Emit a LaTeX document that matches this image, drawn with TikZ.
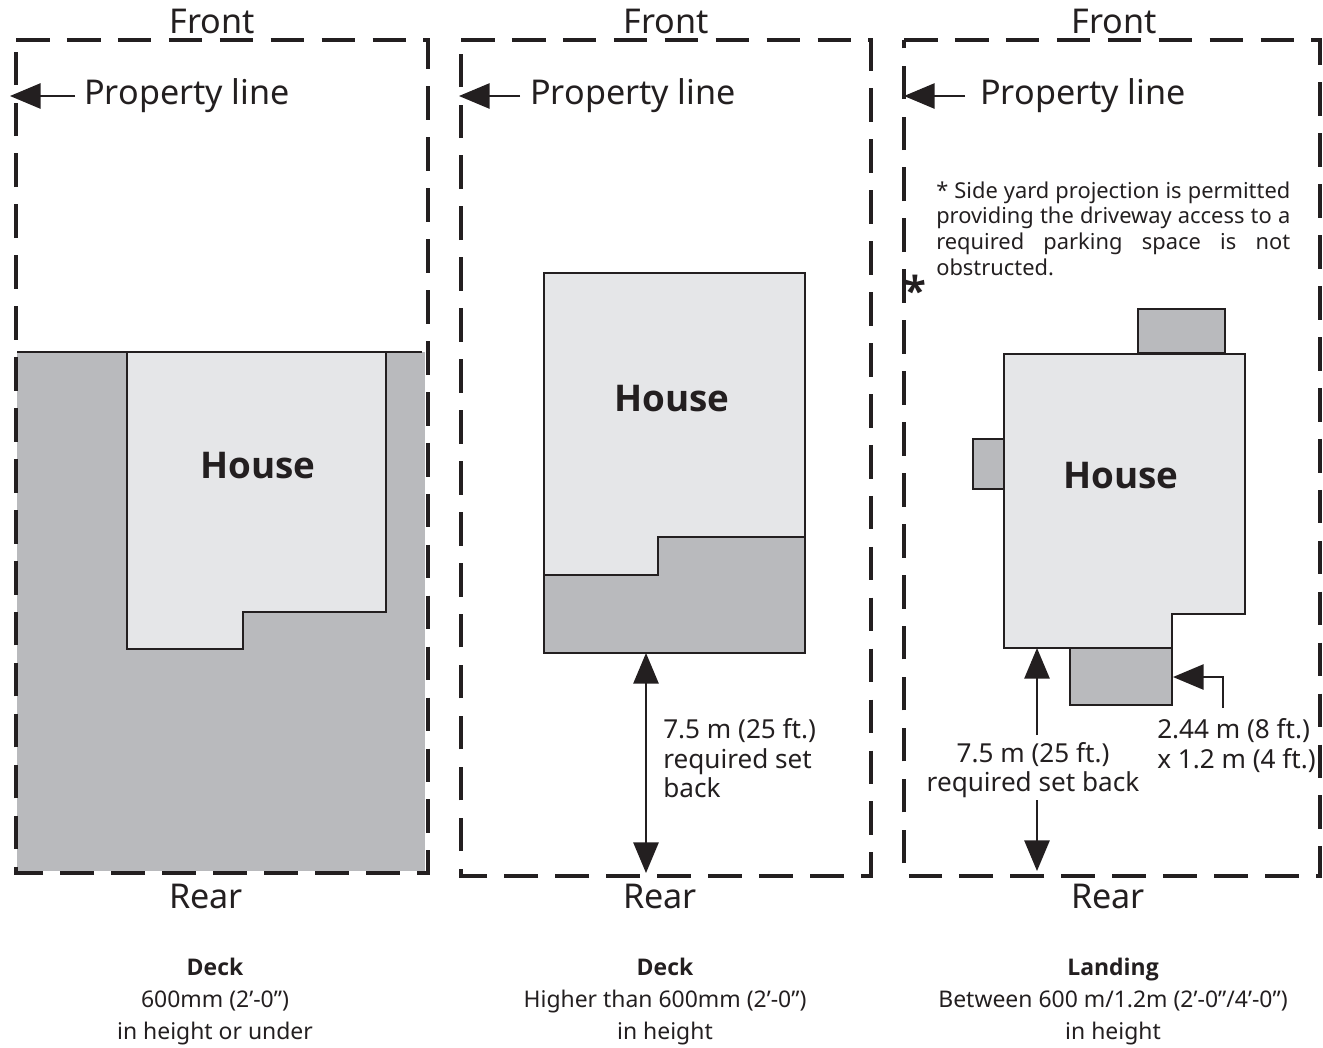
\documentclass[tikz,border=0pt]{standalone}
\usepackage{fontspec}
\setmainfont{Noto Sans}
\newfontfamily\headfont{Open Sans}
\usepackage{xcolor}
\usetikzlibrary{arrows.meta, positioning}
\definecolor{ink}{HTML}{231F20}
\definecolor{deckgrey}{HTML}{B9BABD}
\definecolor{housegrey}{HTML}{E5E6E8}
\tikzset{
  lot/.style={draw=ink, line width=3pt, dash pattern=on 25.2pt off 13pt},
  wall/.style={draw=ink, line width=1.5pt, line join=miter},
  pointer/.style={draw=ink, line width=1.3pt, -{Triangle[length=23pt, width=19pt]}},
  bigtext/.style={inner sep=0pt, text=ink, font=\fontsize{25.6}{25.6}\selectfont},
  midtext/.style={inner sep=0pt, text=ink, align=left, font=\fontsize{19.6}{22.3}\selectfont},
  housetext/.style={inner sep=0pt, text=ink, font=\fontsize{27.6}{28}\selectfont\headfont\bfseries},
  captext/.style={inner sep=0pt, text=ink, align=center, font=\fontsize{17.2}{24}\selectfont}
}
\begin{document}
\begin{tikzpicture}[x=0.75pt, y=-0.75pt]
  \useasboundingbox (0,0) rectangle (1323,1047);
  % first lot
  \fill[deckgrey] (17,352) rectangle (425,871);
  \draw[lot] (16,40) -- (428,40) -- (428,873) -- (16,873) -- cycle;
  \draw[wall] (17,352) -- (422,352);
  \draw[wall, fill=housegrey] (127,352) -- (386,352) -- (386,612) -- (243,612) -- (243,649) -- (127,649) -- cycle;
  \node[housetext] (house1) at (258,466) {House};
  \node[bigtext] (front1) at (212,21) {Front};
  \node[bigtext] (rear1) at (206,896) {Rear};
  \node[bigtext, anchor=west] (prop1) at (84,96) {Property line};
  \coordinate (line1) at (10,96);
  \coordinate (tail1) at (75,96);
  \draw[pointer] (tail1) -- (line1);
  \node[captext] (cap1) at (215,1002) {{\headfont\bfseries Deck}\\600mm (2’-0”)\\in height or under};

  % second lot
  \draw[lot] (461,40) -- (871,40) -- (871,876) -- (461,876) -- cycle;
  \draw[wall, fill=housegrey] (544,273) rectangle (805,653);
  \draw[wall, fill=deckgrey] (544,575) -- (658,575) -- (658,537) -- (805,537) -- (805,653) -- (544,653) -- cycle;
  \node[housetext] (house2) at (672,399) {House};
  \node[bigtext] (front2) at (666,21) {Front};
  \node[bigtext] (rear2) at (660,896) {Rear};
  \node[bigtext, anchor=west] (prop2) at (530,96) {Property line};
  \coordinate (line2) at (459,96);
  \coordinate (tail2) at (520,96);
  \draw[pointer] (tail2) -- (line2);
  \coordinate (back2) at (646,653);
  \coordinate (edge2) at (646,873);
  \draw[pointer, {Triangle[length=23pt, width=19pt]}-{Triangle[length=23pt, width=19pt]}] (back2) -- (edge2);
  \node[midtext, anchor=north west] (set2) at (663,718) {7.5 m (25 ft.)\\required set\\back};
  \node[captext] (cap2) at (665,1002) {{\headfont\bfseries Deck}\\Higher than 600mm (2’-0”)\\in height};

  % third lot
  \draw[lot] (904,40) -- (1320,40) -- (1320,876) -- (904,876) -- cycle;
  \draw[wall, fill=deckgrey] (1138,309) rectangle (1225,353);
  \draw[wall, fill=deckgrey] (973,439) rectangle (1004,489);
  \draw[wall, fill=deckgrey] (1070,648) rectangle (1172,705);
  \draw[wall, fill=housegrey] (1004,354) -- (1245,354) -- (1245,614) -- (1172,614) -- (1172,648) -- (1004,648) -- cycle;
  \node[housetext] (house3) at (1121,476) {House};
  \node[bigtext] (front3) at (1114,21) {Front};
  \node[bigtext] (rear3) at (1108,896) {Rear};
  \node[bigtext, anchor=west] (prop3) at (980,96) {Property line};
  \coordinate (line3) at (904,96);
  \coordinate (tail3) at (965,96);
  \draw[pointer] (tail3) -- (line3);
  \node[inner sep=0pt, text=ink, text width=265.5pt, align=justify, anchor=north west,
    font=\fontsize{16.4}{19.2}\selectfont] (note) at (936,181.5)
    {* Side yard projection is permitted\linebreak providing the driveway access to a\linebreak required parking space is not\linebreak obstructed.};
  \node[inner sep=0pt, text=ink, font=\fontsize{30}{30}\selectfont\headfont\bfseries] (star) at (915,290) {*};
  \node[midtext, align=center] (set3) at (1033,770) {7.5 m (25 ft.)\\required set back};
  \coordinate (back3) at (1037,648);
  \coordinate (up3) at (1037,735);
  \coordinate (down3) at (1037,800);
  \coordinate (edge3) at (1037,871);
  \draw[pointer] (up3) -- (back3);
  \draw[pointer] (down3) -- (edge3);
  \node[midtext, anchor=west] (size) at (1157,745.5) {2.44 m (8 ft.)\\x 1.2 m (4 ft.)};
  \coordinate (stub) at (1223,708);
  \coordinate (deckend) at (1173,677);
  \draw[pointer] (stub) |- (deckend);
  \node[captext] (cap3) at (1113,1002) {{\headfont\bfseries Landing}\\Between 600 m/1.2m (2’-0”/4’-0”)\\in height};
\end{tikzpicture}
\end{document}
